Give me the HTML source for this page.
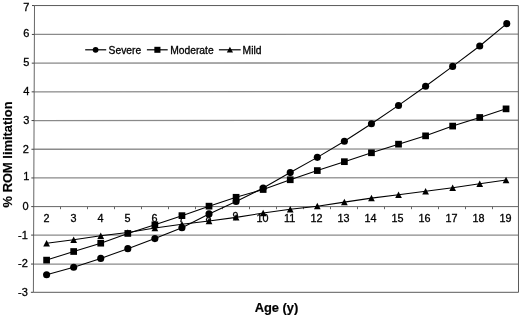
<!DOCTYPE html>
<html><head><meta charset="utf-8"><title>Chart</title>
<style>html,body{margin:0;padding:0;background:#fff}svg{display:block}.t{font-family:"Liberation Sans",Arial,sans-serif}</style></head>
<body>
<svg width="520" height="317" viewBox="0 0 520 317">
<rect width="520" height="317" fill="#fff"/>
<line x1="33.51" y1="264.05" x2="518.3" y2="264.05" stroke="#8a8a8a" stroke-width="1.3"/>
<line x1="33.62" y1="235.10" x2="518.3" y2="235.10" stroke="#8a8a8a" stroke-width="1.3"/>
<line x1="33.84" y1="177.95" x2="518.3" y2="177.65" stroke="#8a8a8a" stroke-width="1.3"/>
<line x1="33.95" y1="149.25" x2="518.3" y2="148.95" stroke="#8a8a8a" stroke-width="1.3"/>
<line x1="34.06" y1="120.55" x2="518.3" y2="120.25" stroke="#8a8a8a" stroke-width="1.3"/>
<line x1="34.17" y1="91.85" x2="518.3" y2="91.55" stroke="#8a8a8a" stroke-width="1.3"/>
<line x1="34.28" y1="63.15" x2="518.3" y2="62.85" stroke="#8a8a8a" stroke-width="1.3"/>
<line x1="34.39" y1="34.45" x2="518.3" y2="34.15" stroke="#8a8a8a" stroke-width="1.3"/>
<polyline points="34.5,5.55 518.3,5.55 518.5,292.3 33.4,292.3" fill="none" stroke="#5a5a5a" stroke-width="1"/>
<line x1="34.5" y1="5.55" x2="33.4" y2="292.3" stroke="#666" stroke-width="1"/>
<line x1="33.73" y1="206.60" x2="518.3" y2="206.60" stroke="#666" stroke-width="1"/>
<line x1="30.90" y1="292.30" x2="33.40" y2="292.30" stroke="#444" stroke-width="1"/>
<line x1="31.01" y1="264.05" x2="33.51" y2="264.05" stroke="#444" stroke-width="1"/>
<line x1="31.12" y1="235.10" x2="33.62" y2="235.10" stroke="#444" stroke-width="1"/>
<line x1="31.23" y1="206.60" x2="33.73" y2="206.60" stroke="#444" stroke-width="1"/>
<line x1="31.34" y1="177.95" x2="33.84" y2="177.95" stroke="#444" stroke-width="1"/>
<line x1="31.45" y1="149.25" x2="33.95" y2="149.25" stroke="#444" stroke-width="1"/>
<line x1="31.56" y1="120.55" x2="34.06" y2="120.55" stroke="#444" stroke-width="1"/>
<line x1="31.67" y1="91.85" x2="34.17" y2="91.85" stroke="#444" stroke-width="1"/>
<line x1="31.78" y1="63.15" x2="34.28" y2="63.15" stroke="#444" stroke-width="1"/>
<line x1="31.89" y1="34.45" x2="34.39" y2="34.45" stroke="#444" stroke-width="1"/>
<line x1="32.00" y1="5.55" x2="34.50" y2="5.55" stroke="#444" stroke-width="1"/>
<line x1="60.50" y1="206.60" x2="60.50" y2="209.20" stroke="#666" stroke-width="1"/>
<line x1="87.50" y1="206.60" x2="87.50" y2="209.20" stroke="#666" stroke-width="1"/>
<line x1="114.50" y1="206.60" x2="114.50" y2="209.20" stroke="#666" stroke-width="1"/>
<line x1="141.50" y1="206.60" x2="141.50" y2="209.20" stroke="#666" stroke-width="1"/>
<line x1="168.50" y1="206.60" x2="168.50" y2="209.20" stroke="#666" stroke-width="1"/>
<line x1="195.50" y1="206.60" x2="195.50" y2="209.20" stroke="#666" stroke-width="1"/>
<line x1="222.50" y1="206.60" x2="222.50" y2="209.20" stroke="#666" stroke-width="1"/>
<line x1="249.50" y1="206.60" x2="249.50" y2="209.20" stroke="#666" stroke-width="1"/>
<line x1="276.50" y1="206.60" x2="276.50" y2="209.20" stroke="#666" stroke-width="1"/>
<line x1="303.50" y1="206.60" x2="303.50" y2="209.20" stroke="#666" stroke-width="1"/>
<line x1="330.50" y1="206.60" x2="330.50" y2="209.20" stroke="#666" stroke-width="1"/>
<line x1="357.50" y1="206.60" x2="357.50" y2="209.20" stroke="#666" stroke-width="1"/>
<line x1="384.50" y1="206.60" x2="384.50" y2="209.20" stroke="#666" stroke-width="1"/>
<line x1="411.50" y1="206.60" x2="411.50" y2="209.20" stroke="#666" stroke-width="1"/>
<line x1="438.50" y1="206.60" x2="438.50" y2="209.20" stroke="#666" stroke-width="1"/>
<line x1="465.50" y1="206.60" x2="465.50" y2="209.20" stroke="#666" stroke-width="1"/>
<line x1="492.50" y1="206.60" x2="492.50" y2="209.20" stroke="#666" stroke-width="1"/>
<text x="27.90" y="296.15" text-anchor="end" class="t" fill="#000" stroke="#000" stroke-width="0.3" font-size="11">-3</text>
<text x="27.90" y="267.05" text-anchor="end" class="t" fill="#000" stroke="#000" stroke-width="0.3" font-size="11">-2</text>
<text x="27.90" y="239.45" text-anchor="end" class="t" fill="#000" stroke="#000" stroke-width="0.3" font-size="11">-1</text>
<text x="28.50" y="209.60" text-anchor="end" class="t" fill="#000" stroke="#000" stroke-width="0.3" font-size="11">0</text>
<text x="29.40" y="179.75" text-anchor="end" class="t" fill="#000" stroke="#000" stroke-width="0.3" font-size="11">1</text>
<text x="28.80" y="152.65" text-anchor="end" class="t" fill="#000" stroke="#000" stroke-width="0.3" font-size="11">2</text>
<text x="29.40" y="123.85" text-anchor="end" class="t" fill="#000" stroke="#000" stroke-width="0.3" font-size="11">3</text>
<text x="29.40" y="94.85" text-anchor="end" class="t" fill="#000" stroke="#000" stroke-width="0.3" font-size="11">4</text>
<text x="29.40" y="66.15" text-anchor="end" class="t" fill="#000" stroke="#000" stroke-width="0.3" font-size="11">5</text>
<text x="29.40" y="37.45" text-anchor="end" class="t" fill="#000" stroke="#000" stroke-width="0.3" font-size="11">6</text>
<text x="29.40" y="10.55" text-anchor="end" class="t" fill="#000" stroke="#000" stroke-width="0.3" font-size="11">7</text>
<text x="46.60" y="222.0" text-anchor="middle" class="t" fill="#000" stroke="#000" stroke-width="0.3" font-size="10.8">2</text>
<text x="73.60" y="222.0" text-anchor="middle" class="t" fill="#000" stroke="#000" stroke-width="0.3" font-size="10.8">3</text>
<text x="100.60" y="222.0" text-anchor="middle" class="t" fill="#000" stroke="#000" stroke-width="0.3" font-size="10.8">4</text>
<text x="127.60" y="222.0" text-anchor="middle" class="t" fill="#000" stroke="#000" stroke-width="0.3" font-size="10.8">5</text>
<text x="154.60" y="222.0" text-anchor="middle" class="t" fill="#000" stroke="#000" stroke-width="0.3" font-size="10.8">6</text>
<text x="181.60" y="222.0" text-anchor="middle" class="t" fill="#000" stroke="#000" stroke-width="0.3" font-size="10.8">7</text>
<text x="208.60" y="222.0" text-anchor="middle" class="t" fill="#000" stroke="#000" stroke-width="0.3" font-size="10.8">8</text>
<text x="235.60" y="219.8" text-anchor="middle" class="t" fill="#000" stroke="#000" stroke-width="0.3" font-size="10.8">9</text>
<text x="262.60" y="222.0" text-anchor="middle" class="t" fill="#000" stroke="#000" stroke-width="0.3" font-size="10.8">10</text>
<text x="289.60" y="222.0" text-anchor="middle" class="t" fill="#000" stroke="#000" stroke-width="0.3" font-size="10.8">11</text>
<text x="316.60" y="222.0" text-anchor="middle" class="t" fill="#000" stroke="#000" stroke-width="0.3" font-size="10.8">12</text>
<text x="343.60" y="222.0" text-anchor="middle" class="t" fill="#000" stroke="#000" stroke-width="0.3" font-size="10.8">13</text>
<text x="370.60" y="222.0" text-anchor="middle" class="t" fill="#000" stroke="#000" stroke-width="0.3" font-size="10.8">14</text>
<text x="397.60" y="222.0" text-anchor="middle" class="t" fill="#000" stroke="#000" stroke-width="0.3" font-size="10.8">15</text>
<text x="424.60" y="222.0" text-anchor="middle" class="t" fill="#000" stroke="#000" stroke-width="0.3" font-size="10.8">16</text>
<text x="451.60" y="222.0" text-anchor="middle" class="t" fill="#000" stroke="#000" stroke-width="0.3" font-size="10.8">17</text>
<text x="478.60" y="222.0" text-anchor="middle" class="t" fill="#000" stroke="#000" stroke-width="0.3" font-size="10.8">18</text>
<text x="505.60" y="222.0" text-anchor="middle" class="t" fill="#000" stroke="#000" stroke-width="0.3" font-size="10.8">19</text>
<polyline points="46.60,274.76 73.67,267.29 100.74,258.40 127.81,248.64 154.88,238.59 181.95,227.69 209.02,213.91 236.09,201.57 263.16,188.08 290.24,172.58 317.31,157.37 344.38,141.30 371.45,123.79 398.52,105.43 425.59,86.20 452.66,66.39 479.73,46.02 506.80,23.63" fill="none" stroke="#000" stroke-width="1.05"/>
<polyline points="46.60,260.12 73.67,251.51 100.74,243.19 127.81,233.43 154.88,224.82 181.95,215.63 209.02,206.16 236.09,197.27 263.16,189.52 290.24,179.76 317.31,170.57 344.38,161.68 371.45,152.78 398.52,144.17 425.59,135.85 452.66,126.09 479.73,117.48 506.05,108.87" fill="none" stroke="#000" stroke-width="1.05"/>
<polyline points="46.60,243.19 73.67,239.74 100.74,235.72 127.81,232.57 154.88,227.97 181.95,224.24 209.02,221.09 236.09,217.36 263.16,213.05 290.24,209.32 317.31,206.16 344.38,202.14 371.45,198.13 398.52,194.68 425.59,191.24 452.66,187.79 479.73,183.78 506.05,180.05" fill="none" stroke="#000" stroke-width="1.05"/>
<circle cx="46.60" cy="274.76" r="3.55" fill="#000"/>
<circle cx="73.67" cy="267.29" r="3.55" fill="#000"/>
<circle cx="100.74" cy="258.40" r="3.55" fill="#000"/>
<circle cx="127.81" cy="248.64" r="3.55" fill="#000"/>
<circle cx="154.88" cy="238.59" r="3.55" fill="#000"/>
<circle cx="181.95" cy="227.69" r="3.55" fill="#000"/>
<circle cx="209.02" cy="213.91" r="3.55" fill="#000"/>
<circle cx="236.09" cy="201.57" r="3.55" fill="#000"/>
<circle cx="263.16" cy="188.08" r="3.55" fill="#000"/>
<circle cx="290.24" cy="172.58" r="3.55" fill="#000"/>
<circle cx="317.31" cy="157.37" r="3.55" fill="#000"/>
<circle cx="344.38" cy="141.30" r="3.55" fill="#000"/>
<circle cx="371.45" cy="123.79" r="3.55" fill="#000"/>
<circle cx="398.52" cy="105.43" r="3.55" fill="#000"/>
<circle cx="425.59" cy="86.20" r="3.55" fill="#000"/>
<circle cx="452.66" cy="66.39" r="3.55" fill="#000"/>
<circle cx="479.73" cy="46.02" r="3.55" fill="#000"/>
<circle cx="506.80" cy="23.63" r="3.55" fill="#000"/>
<rect x="43.25" y="256.77" width="6.7" height="6.7" fill="#000"/>
<rect x="70.32" y="248.16" width="6.7" height="6.7" fill="#000"/>
<rect x="97.39" y="239.84" width="6.7" height="6.7" fill="#000"/>
<rect x="124.46" y="230.08" width="6.7" height="6.7" fill="#000"/>
<rect x="151.53" y="221.47" width="6.7" height="6.7" fill="#000"/>
<rect x="178.60" y="212.28" width="6.7" height="6.7" fill="#000"/>
<rect x="205.67" y="202.81" width="6.7" height="6.7" fill="#000"/>
<rect x="232.74" y="193.92" width="6.7" height="6.7" fill="#000"/>
<rect x="259.81" y="186.17" width="6.7" height="6.7" fill="#000"/>
<rect x="286.89" y="176.41" width="6.7" height="6.7" fill="#000"/>
<rect x="313.96" y="167.22" width="6.7" height="6.7" fill="#000"/>
<rect x="341.03" y="158.33" width="6.7" height="6.7" fill="#000"/>
<rect x="368.10" y="149.43" width="6.7" height="6.7" fill="#000"/>
<rect x="395.17" y="140.82" width="6.7" height="6.7" fill="#000"/>
<rect x="422.24" y="132.50" width="6.7" height="6.7" fill="#000"/>
<rect x="449.31" y="122.74" width="6.7" height="6.7" fill="#000"/>
<rect x="476.38" y="114.13" width="6.7" height="6.7" fill="#000"/>
<rect x="502.70" y="105.52" width="6.7" height="6.7" fill="#000"/>
<polygon points="46.60,239.89 49.95,246.39 43.25,246.39" fill="#000"/>
<polygon points="73.67,236.44 77.02,242.94 70.32,242.94" fill="#000"/>
<polygon points="100.74,232.42 104.09,238.92 97.39,238.92" fill="#000"/>
<polygon points="127.81,229.27 131.16,235.77 124.46,235.77" fill="#000"/>
<polygon points="154.88,224.67 158.23,231.17 151.53,231.17" fill="#000"/>
<polygon points="181.95,220.94 185.30,227.44 178.60,227.44" fill="#000"/>
<polygon points="209.02,217.79 212.37,224.29 205.67,224.29" fill="#000"/>
<polygon points="236.09,214.06 239.44,220.56 232.74,220.56" fill="#000"/>
<polygon points="263.16,209.75 266.51,216.25 259.81,216.25" fill="#000"/>
<polygon points="290.24,206.02 293.59,212.52 286.89,212.52" fill="#000"/>
<polygon points="317.31,202.86 320.66,209.36 313.96,209.36" fill="#000"/>
<polygon points="344.38,198.84 347.73,205.34 341.03,205.34" fill="#000"/>
<polygon points="371.45,194.83 374.80,201.33 368.10,201.33" fill="#000"/>
<polygon points="398.52,191.38 401.87,197.88 395.17,197.88" fill="#000"/>
<polygon points="425.59,187.94 428.94,194.44 422.24,194.44" fill="#000"/>
<polygon points="452.66,184.49 456.01,190.99 449.31,190.99" fill="#000"/>
<polygon points="479.73,180.48 483.08,186.98 476.38,186.98" fill="#000"/>
<polygon points="506.05,176.75 509.40,183.25 502.70,183.25" fill="#000"/>
<line x1="85.2" y1="49.8" x2="106.2" y2="49.8" stroke="#000" stroke-width="1.2"/>
<circle cx="95.6" cy="49.8" r="2.9" fill="#000"/>
<text x="108.6" y="53.7" class="t" fill="#000" stroke="#000" stroke-width="0.3" font-size="10.3">Severe</text>
<line x1="146.9" y1="49.8" x2="167.7" y2="49.8" stroke="#000" stroke-width="1.2"/>
<rect x="154.35" y="46.80" width="6.1" height="6.0" fill="#000"/>
<text x="170.2" y="53.7" class="t" fill="#000" stroke="#000" stroke-width="0.3" font-size="10.3">Moderate</text>
<line x1="218.9" y1="49.8" x2="240.7" y2="49.8" stroke="#000" stroke-width="1.2"/>
<polygon points="229.9,46.8 233.0,52.6 226.8,52.6" fill="#000"/>
<text x="242.6" y="53.7" class="t" fill="#000" stroke="#000" stroke-width="0.3" font-size="10.3">Mild</text>
<text x="276.5" y="311.6" text-anchor="middle" class="t" font-size="12.9" font-weight="bold" fill="#000" stroke="#000" stroke-width="0.2">Age (y)</text>
<text transform="translate(11.9,207.4) rotate(-90)" class="t" font-size="12.9" font-weight="bold" fill="#000" stroke="#000" stroke-width="0.15">% ROM limitation</text>
</svg>
</body></html>
